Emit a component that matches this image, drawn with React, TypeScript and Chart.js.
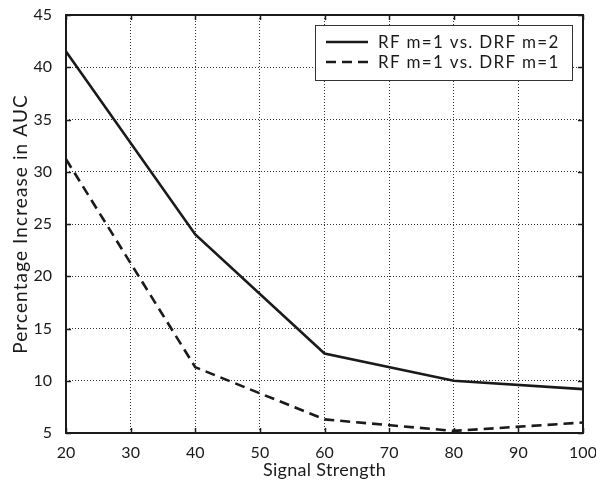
import React, { useEffect, useRef } from "react";
import { Chart, registerables } from "chart.js";

Chart.register(...registerables);

// ---- data ----
const signalStrength = [20, 40, 60, 80, 100];
const rfVsDrfM2 = [41.5, 24.0, 12.6, 10.0, 9.2];
const rfVsDrfM1 = [31.2, 11.3, 6.3, 5.2, 6.0];
const seriesLabels = ["RF m=1 vs. DRF m=2", "RF m=1 vs. DRF m=1"];
const xTitle = "Signal Strength";
const yTitle = "Percentage Increase in AUC";
const xRange = [20, 100];
const xStep = 10;
const yRange = [5, 45];
const yStep = 5;

const FONT = "Lato, 'Open Sans', sans-serif";
const INK = "#1a1a1a";

const decorPlugin = {
  id: "decor",
  beforeDraw(chart: any) {
    const ctx = chart.ctx;
    ctx.save();
    ctx.fillStyle = "#fff";
    ctx.fillRect(0, 0, chart.width, chart.height);
    ctx.restore();
  },
  afterDraw(chart: any) {
    const ctx = chart.ctx as CanvasRenderingContext2D;
    const { left, right, top, bottom } = chart.chartArea;
    const xs = chart.scales.x;
    const ys = chart.scales.y;
    ctx.save();
    // inward tick marks
    ctx.strokeStyle = INK;
    ctx.lineWidth = 1.5;
    ctx.setLineDash([]);
    ctx.beginPath();
    xs.ticks.forEach((t: any) => {
      const px = Math.round(xs.getPixelForValue(t.value)) + 0.5;
      ctx.moveTo(px, bottom);
      ctx.lineTo(px, bottom - 5);
      ctx.moveTo(px, top);
      ctx.lineTo(px, top + 5);
    });
    ys.ticks.forEach((t: any) => {
      const py = Math.round(ys.getPixelForValue(t.value)) + 0.5;
      ctx.moveTo(left, py);
      ctx.lineTo(left + 5, py);
      ctx.moveTo(right, py);
      ctx.lineTo(right - 5, py);
    });
    ctx.stroke();
    // frame
    ctx.lineWidth = 2;
    ctx.strokeRect(left, top, right - left, bottom - top);

    // axis titles
    ctx.fillStyle = INK;
    ctx.font = `18px ${FONT}`;
    (ctx as any).letterSpacing = "0.3px";
    ctx.textAlign = "center";
    ctx.textBaseline = "alphabetic";
    ctx.fillText(xTitle, (left + right) / 2, 476);
    ctx.save();
    ctx.translate(27, (top + bottom) / 2);
    ctx.rotate(-Math.PI / 2);
    ctx.font = `19px ${FONT}`;
    (ctx as any).letterSpacing = "1.1px";
    ctx.fillText(yTitle, 0, 0);
    ctx.restore();

    // legend
    const bx = 315, by = 25, bw = 257, bh = 55;
    ctx.fillStyle = "#fff";
    ctx.fillRect(bx, by, bw, bh);
    ctx.strokeStyle = "#333";
    ctx.lineWidth = 1;
    ctx.strokeRect(bx + 0.5, by + 0.5, bw, bh);
    const rows = [
      { y: 42, dash: [] as number[] },
      { y: 62, dash: [10, 6] },
    ];
    rows.forEach((r, i) => {
      ctx.strokeStyle = INK;
      ctx.lineWidth = 2.5;
      ctx.setLineDash(r.dash);
      ctx.beginPath();
      ctx.moveTo(326, r.y);
      ctx.lineTo(368, r.y);
      ctx.stroke();
      ctx.setLineDash([]);
      ctx.fillStyle = INK;
      ctx.font = `17px ${FONT}`;
      (ctx as any).letterSpacing = "1.3px";
      ctx.textAlign = "left";
      ctx.textBaseline = "middle";
      ctx.fillText(seriesLabels[i], 378, r.y + 1);
    });
    ctx.restore();
  },
};

export default function App() {
  const canvasRef = useRef<HTMLCanvasElement | null>(null);

  useEffect(() => {
    if (!canvasRef.current) return;
    const chart = new Chart(canvasRef.current, {
      type: "line",
      data: {
        datasets: [
          {
            label: seriesLabels[0],
            data: signalStrength.map((x, i) => ({ x, y: rfVsDrfM2[i] })),
            borderColor: INK,
            borderWidth: 2.6,
            pointRadius: 0,
            tension: 0,
            fill: false,
          },
          {
            label: seriesLabels[1],
            data: signalStrength.map((x, i) => ({ x, y: rfVsDrfM1[i] })),
            borderColor: INK,
            borderWidth: 2.6,
            borderDash: [10, 6],
            pointRadius: 0,
            tension: 0,
            fill: false,
          },
        ],
      },
      options: {
        animation: false,
        responsive: false,
        maintainAspectRatio: false,
        devicePixelRatio: 1,
        layout: { padding: { top: 15, right: 13, bottom: 0, left: 0 } },
        plugins: {
          legend: { display: false },
          tooltip: { enabled: false },
          title: { display: false },
        },
        scales: {
          x: {
            type: "linear",
            min: xRange[0],
            max: xRange[1],
            ticks: {
              stepSize: xStep,
              color: INK,
              font: { family: FONT, size: 16 },
              padding: 10,
              maxRotation: 0,
            },
            grid: { color: "#333", lineWidth: 1, drawTicks: false },
            border: { display: false, dash: [1, 2] },
            afterFit(scale: any) {
              scale.height = 56;
              scale.paddingLeft = 0;
              scale.paddingRight = 0;
            },
          },
          y: {
            type: "linear",
            min: yRange[0],
            max: yRange[1],
            ticks: {
              stepSize: yStep,
              color: INK,
              font: { family: FONT, size: 16 },
              padding: 14,
            },
            grid: { color: "#333", lineWidth: 1, drawTicks: false },
            border: { display: false, dash: [1, 2] },
            afterFit(scale: any) {
              scale.width = 66;
              scale.paddingTop = 0;
              scale.paddingBottom = 0;
            },
          },
        },
      },
      plugins: [decorPlugin],
    } as any);
    return () => chart.destroy();
  }, []);

  return (
    <div style={{ position: "absolute", left: 0, top: 0, width: 596, height: 489, background: "#fff" }}>
      <canvas ref={canvasRef} width={596} height={489} />
    </div>
  );
}
